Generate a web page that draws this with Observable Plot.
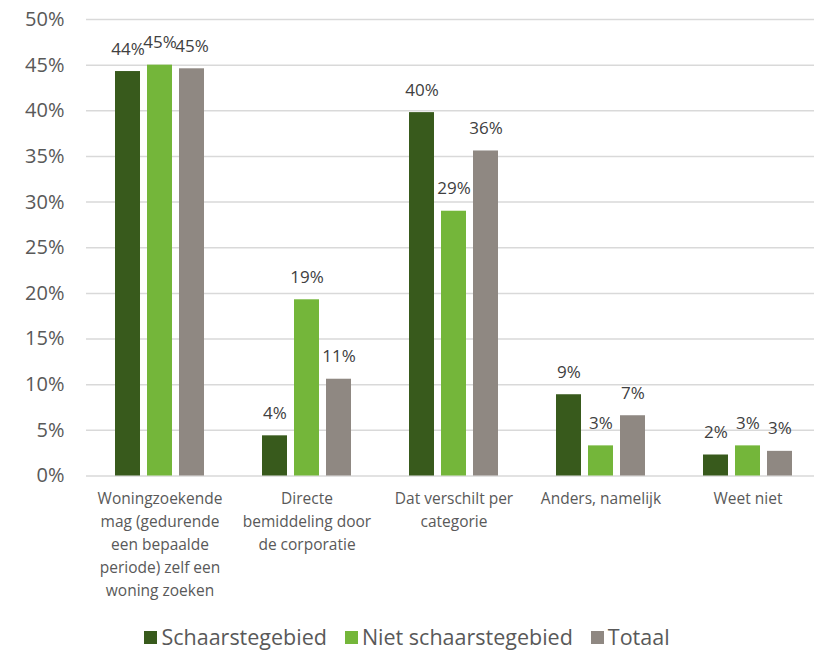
<!DOCTYPE html>
<html>
<head>
<meta charset="utf-8">
<script src="https://cdn.jsdelivr.net/npm/d3@7"></script>
<script src="https://cdn.jsdelivr.net/npm/@observablehq/plot@0.6"></script>
<style>
  html, body { margin: 0; padding: 0; background: #fff; overflow: hidden; }
  #chart { width: 814px; }
  #chart svg { display: block; overflow: hidden; }
  .lg-swatches { justify-content: center; margin: 0 !important; padding-top: 12px; min-height: 26px !important; line-height: 26px; }
  .lg-swatch { margin-right: 18px !important; }
  .lg-swatch:last-child { margin-right: 0 !important; }
  .lg-swatch svg { margin-right: 4px !important; }
</style>
</head>
<body>
<div id="chart"></div>
<script>
const categories = [
  "Woningzoekende\nmag (gedurende\neen bepaalde\nperiode) zelf een\nwoning zoeken",
  "Directe\nbemiddeling door\nde corporatie",
  "Dat verschilt per\ncategorie",
  "Anders, namelijk",
  "Weet niet"
];
const series = ["Schaarstegebied", "Niet schaarstegebied", "Totaal"];
const schaarstegebied = [44.3, 4.4, 39.8, 8.9, 2.3];
const nietSchaarstegebied = [45.0, 19.3, 29.0, 3.3, 3.3];
const totaal = [44.6, 10.6, 35.6, 6.6, 2.7];
const yTicks = [0, 5, 10, 15, 20, 25, 30, 35, 40, 45, 50];
const colors = ["#385a1c", "#74b63a", "#8f8882"];

const valuesBySeries = [schaarstegebied, nietSchaarstegebied, totaal];
const rows = [];
categories.forEach((c, i) => {
  series.forEach((s, j) => rows.push({cat: c, series: s, value: valuesBySeries[j][i]}));
});

const font = "'Open Sans', sans-serif";
const plot = Plot.plot({
  width: 814,
  height: 612,
  marginTop: 19,
  marginBottom: 136.5,
  marginLeft: 84,
  marginRight: -8,
  style: {fontFamily: font, background: "#fff"},
  fx: {domain: categories, padding: 0, label: null, axis: null},
  x: {domain: series, paddingInner: 0.21, paddingOuter: 0.84, axis: null},
  y: {domain: [0, 50], label: null},
  color: {domain: series, range: colors},
  marks: [
    Plot.gridY(yTicks, {stroke: "#d9d9d9", strokeOpacity: 1, strokeWidth: 1.5}),
    Plot.barY(rows, {fx: "cat", x: "series", y: "value", fill: "series"}),
    Plot.text(rows, {fx: "cat", x: "series", y: "value", text: d => Math.round(d.value) + "%",
      lineAnchor: "bottom", dy: -17, fill: "#404040", fontSize: 17, fontFamily: font}),
    Plot.axisY({ticks: yTicks, tickFormat: d => d + "%", tickSize: 0, tickPadding: 22,
      fontSize: 20, fill: "#595959", label: null, fontFamily: font}),
    Plot.axisFx({anchor: "bottom", tickSize: 0, tickPadding: 12, fontSize: 15.5, lineHeight: 1.48,
      fill: "#595959", label: null, fontFamily: font, tickFormat: d => d})
  ]
});
document.getElementById("chart").appendChild(plot);

const legend = Plot.legend({
  color: {domain: series, range: colors},
  swatchSize: 13,
  className: "lg",
  style: {fontFamily: font, fontSize: "21.5px", color: "#595959", width: "814px"}
});
document.getElementById("chart").appendChild(legend);
</script>
</body>
</html>
